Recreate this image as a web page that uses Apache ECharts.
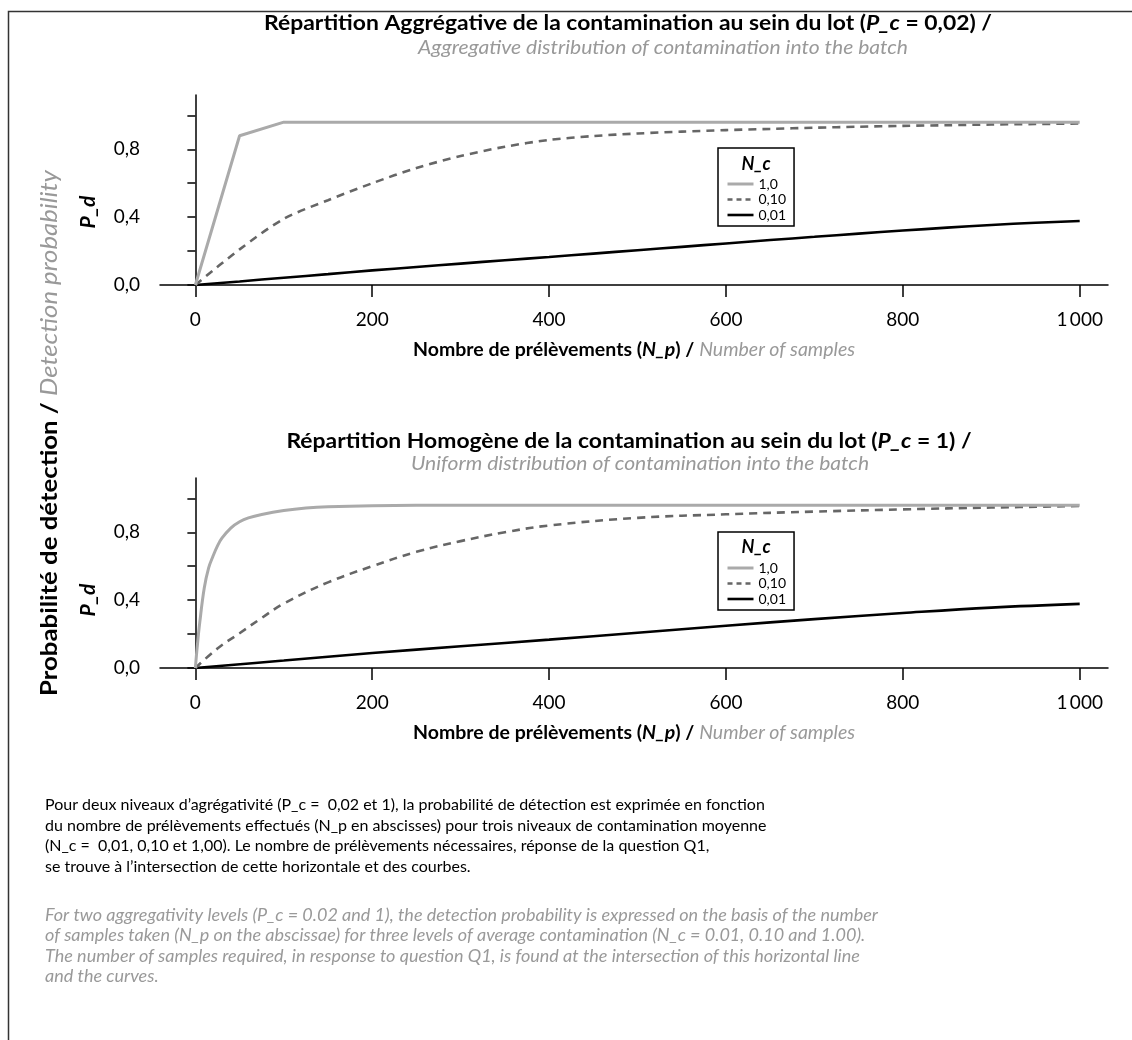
<!DOCTYPE html>
<html>
<head>
<meta charset="utf-8">
<script src="https://cdn.jsdelivr.net/npm/echarts@6/dist/echarts.min.js"></script>
<style>html,body{margin:0;padding:0;background:#fff}#c{width:1132px;height:1040px}</style>
</head>
<body>
<div id="c"></div>
<script>
// ---------- data ----------
const seriesNames = ['1,0', '0,10', '0,01'];

// Aggregative distribution (P_c = 0,02), sampled every 50 samples
const aggX = [0,50,100,150,200,250,300,350,400,450,500,550,600,650,700,750,800,850,900,950,1000];
const aggHigh = [0,0.88,0.96,0.96,0.96,0.96,0.96,0.96,0.96,0.96,0.96,0.96,0.96,0.96,0.96,0.96,0.96,0.96,0.96,0.96,0.96];
const aggMid  = [0,0.21,0.39,0.50,0.60,0.69,0.76,0.815,0.855,0.878,0.893,0.904,0.913,0.92,0.927,0.933,0.938,0.942,0.946,0.949,0.952];
const aggLow  = [0,0.021,0.043,0.064,0.086,0.106,0.126,0.146,0.165,0.185,0.205,0.225,0.245,0.265,0.284,0.303,0.321,0.338,0.354,0.367,0.377];

// Uniform distribution (P_c = 1)
const uniHighX = [0,2,5,10,15,20,25,30,40,50,60,75,100,125,150,200,300,400,500,600,700,800,900,1000];
const uniHigh  = [0,0.12,0.27,0.47,0.59,0.66,0.72,0.765,0.825,0.862,0.885,0.905,0.928,0.943,0.951,0.957,0.96,0.96,0.96,0.96,0.96,0.96,0.96,0.96];
const uniMidX = [0,25,50,75,100,150,200,250,300,350,400,500,600,700,800,900,1000];
const uniMid  = [0,0.115,0.205,0.295,0.38,0.505,0.60,0.685,0.748,0.80,0.84,0.885,0.906,0.922,0.935,0.946,0.955];
const uniLowX = [0,100,200,300,400,500,600,700,800,900,1000];
const uniLow  = [0,0.044,0.088,0.128,0.167,0.208,0.249,0.288,0.324,0.356,0.378];

// axis ticks
const xTickValues = [0,200,400,600,800,1000];
const yTickValues = [0,0.2,0.4,0.6,0.8,1.0];
const yLabelValues = [0,0.4,0.8];

// ---------- helpers ----------
const pairs = (xs, ys) => xs.map((x, i) => [x, ys[i]]);
const FONT = 'Lato, "Open Sans", sans-serif';
const colors = ['#aaaaaa', '#666666', '#000000'];

function xAxisFor(gi) {
  return {
    type: 'value', gridIndex: gi, min: -40, max: 1032,
    axisLine: { show: true, onZero: false, lineStyle: { color: '#000', width: 1.5 } },
    axisTick: { show: true, length: 12, lineStyle: { color: '#000', width: 1.5 }, customValues: xTickValues },
    axisLabel: { show: true, margin: 25, fontSize: 19, color: '#000', fontFamily: FONT,
      customValues: xTickValues,
      formatter: v => v >= 1000 ? String(v).replace(/(\d)(\d{3})$/, '$1\u2009$2') : String(v) },
    splitLine: { show: false },
    name: '{b|Nombre de prélèvements (}{bi|N_p}{b|) / }{gi|Number of samples}',
    nameLocation: 'middle', nameGap: 55,
    nameTextStyle: { rich: {
      b: { fontWeight: 'bold', fontSize: 19.5, color: '#000', fontFamily: FONT },
      bi: { fontWeight: 'bold', fontStyle: 'italic', fontSize: 19.5, color: '#000', fontFamily: FONT },
      gi: { fontStyle: 'italic', fontSize: 19.5, color: '#999', fontFamily: FONT }
    } }
  };
}
function yAxisFor(gi) {
  return {
    type: 'value', gridIndex: gi, min: 0, max: 1.12,
    axisLine: { show: true, lineStyle: { color: '#000', width: 1.5 } },
    axisTick: { show: true, length: 8, lineStyle: { color: '#000', width: 1.5 }, customValues: yTickValues },
    axisLabel: { show: true, margin: 20, fontSize: 19, color: '#000', fontFamily: FONT,
      customValues: yLabelValues, formatter: v => v.toFixed(1).replace('.', ',') },
    splitLine: { show: false }
  };
}
function lineSeries(name, gi, data, idx, smooth) {
  return {
    type: 'line', name, xAxisIndex: gi, yAxisIndex: gi, data,
    showSymbol: false, symbol: 'none', smooth: smooth,
    lineStyle: { color: colors[idx], width: idx === 0 ? 3 : 2.6, type: idx === 1 ? [8, 6] : 'solid' },
    itemStyle: { color: colors[idx] },
    z: 3 - idx
  };
}
function legendFor(top) {
  return {
    orient: 'vertical', left: 718, top: top,
    data: [
      { name: seriesNames[0], lineStyle: { width: 3, color: colors[0] } },
      { name: seriesNames[1], lineStyle: { type: [5, 4], width: 2.6, color: colors[1] } },
      { name: seriesNames[2], lineStyle: { width: 2.6, color: colors[2] } }
    ],
    itemWidth: 26, itemHeight: 12, itemGap: 1.5,
    padding: [29, 8, 4, 8],
    borderColor: '#000', borderWidth: 1.5,
    itemStyle: { opacity: 0 },
    textStyle: { fontSize: 14, color: '#000', fontFamily: FONT },
    selectedMode: false
  };
}
function txt(x, y, text, rich, opts) {
  return Object.assign({
    type: 'text', x, y, silent: true,
    style: { text, rich, textAlign: 'center', textVerticalAlign: 'middle', align: 'center', verticalAlign: 'middle' }
  }, opts || {});
}
const R = {
  b: { fontWeight: 'bold', fontSize: 21, fill: '#000', fontFamily: FONT },
  bi: { fontWeight: 'bold', fontStyle: 'italic', fontSize: 21, fill: '#000', fontFamily: FONT },
  gi: { fontStyle: 'italic', fontSize: 19.5, fill: '#999', fontFamily: FONT }
};
const RY = {
  b: { fontWeight: 'bold', fontSize: 23, fill: '#000', fontFamily: FONT },
  gi: { fontStyle: 'italic', fontSize: 23, fill: '#999', fontFamily: FONT }
};
const RP = { bi: { fontWeight: 'bold', fontStyle: 'italic', fontSize: 21, fill: '#000', fontFamily: FONT } };
const RN = { bi: { fontWeight: 'bold', fontStyle: 'italic', fontSize: 18, fill: '#000', fontFamily: FONT } };

const caption1 = [
  'Pour deux niveaux d’agrégativité (P_c =  0,02 et 1), la probabilité de détection est exprimée en fonction',
  'du nombre de prélèvements effectués (N_p en abscisses) pour trois niveaux de contamination moyenne',
  '(N_c =  0,01, 0,10 et 1,00). Le nombre de prélèvements nécessaires, réponse de la question Q1,',
  'se trouve à l’intersection de cette horizontale et des courbes.'
].join('\n');
const caption2 = [
  'For two aggregativity levels (P_c = 0.02 and 1), the detection probability is expressed on the basis of the number',
  'of samples taken (N_p on the abscissae) for three levels of average contamination (N_c = 0.01, 0.10 and 1.00).',
  'The number of samples required, in response to question Q1, is found at the intersection of this horizontal line',
  'and the curves.'
].join('\n');

const chart = echarts.init(document.getElementById('c'), null, { renderer: 'canvas' });
chart.setOption({
  backgroundColor: '#fff',
  animation: false,
  grid: [
    { left: 160, right: 24, top: 95, height: 190, containLabel: false },
    { left: 160, right: 24, top: 478, height: 190, containLabel: false }
  ],
  xAxis: [xAxisFor(0), xAxisFor(1)],
  yAxis: [yAxisFor(0), yAxisFor(1)],
  legend: [legendFor(148), legendFor(532)],
  series: [
    lineSeries(seriesNames[0], 0, pairs(aggX, aggHigh), 0, false),
    lineSeries(seriesNames[1], 0, pairs(aggX, aggMid), 1, 0.3),
    lineSeries(seriesNames[2], 0, pairs(aggX, aggLow), 2, 0.3),
    lineSeries(seriesNames[0], 1, pairs(uniHighX, uniHigh), 0, 0.4),
    lineSeries(seriesNames[1], 1, pairs(uniMidX, uniMid), 1, 0.4),
    lineSeries(seriesNames[2], 1, pairs(uniLowX, uniLow), 2, 0.4)
  ],
  graphic: [
    { type: 'rect', silent: true, shape: { x: 8.5, y: 11.5, width: 1300, height: 1200 },
      style: { fill: 'none', stroke: '#333', lineWidth: 1.5 } },
    txt(628, 23, '{b|Répartition Aggrégative de la contamination au sein du lot (}{bi|P_c}{b| = 0,02) /}', R, { scaleX: 1.09 }),
    txt(663, 48, '{gi|Aggregative distribution of contamination into the batch}', R, { scaleX: 1.08 }),
    txt(629, 441, '{b|Répartition Homogène de la contamination au sein du lot (}{bi|P_c}{b| = 1) /}', R, { scaleX: 1.09 }),
    txt(640, 464, '{gi|Uniform distribution of contamination into the batch}', R, { scaleX: 1.08 }),
    txt(88, 212, '{bi|P_d}', RP, { rotation: Math.PI / 2 }),
    txt(88, 600, '{bi|P_d}', RP, { rotation: Math.PI / 2 }),
    txt(50, 433, '{b|Probabilité de détection / }{gi|Detection probability}', RY, { rotation: Math.PI / 2, scaleX: 1.12 }),
    txt(756, 164, '{bi|N_c}', RN),
    txt(756, 547, '{bi|N_c}', RN),
    { type: 'text', x: 45, y: 795, silent: true,
      style: { text: caption1, fontSize: 16, fontFamily: FONT, fill: '#000', lineHeight: 20.5,
               textAlign: 'left', textVerticalAlign: 'top', align: 'left', verticalAlign: 'top' } },
    { type: 'text', x: 45, y: 905, silent: true, scaleX: 1.06,
      style: { text: caption2, fontSize: 17, fontStyle: 'italic', fontFamily: FONT, fill: '#999', lineHeight: 20.5,
               textAlign: 'left', textVerticalAlign: 'top', align: 'left', verticalAlign: 'top' } }
  ]
});
</script>
</body>
</html>
